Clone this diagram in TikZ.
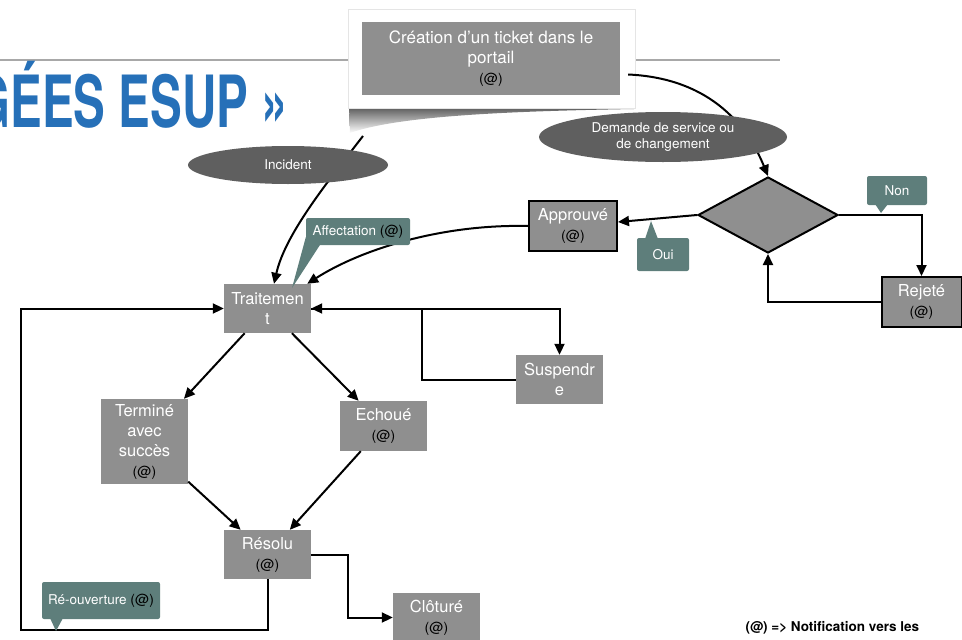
\documentclass[tikz,border=0pt]{standalone}
\usepackage{fontspec}
\setmainfont{TeX Gyre Heros}
\usetikzlibrary{arrows.meta}
\usetikzlibrary{shapes.geometric}
\definecolor{boxgray}{HTML}{8F8F8F}
\definecolor{ovalgray}{HTML}{5F5F5F}
\definecolor{tagteal}{HTML}{5E7E7B}
\definecolor{titleblue}{HTML}{2670B8}
\definecolor{rulegray}{HTML}{A8A8A8}
\tikzset{box/.style = {fill=boxgray, text=white, align=center, inner sep=0, minimum width=87, minimum height=49, font=\fontsize{16.5}{20}\selectfont}}
\tikzset{frame/.style = {box, draw, line width=2}}
\tikzset{oval/.style = {ellipse, fill=ovalgray, text=white, align=center, inner sep=0, font=\fontsize{13.5}{16}\selectfont}}
\tikzset{tag/.style = {fill=tagteal, text=white, rounded corners=2, inner sep=0, font=\fontsize{13.5}{16}\selectfont}}
\tikzset{flow/.style = {line width=2, -{Triangle[length=11pt,width=10pt]}}}
\tikzset{title/.style = {text=titleblue, inner sep=0, font=\fontsize{72}{72}\selectfont\bfseries}}
\newcommand{\arob}{{\color{black}\fontsize{14}{16}\selectfont (@)}}

\begin{document}
\begin{tikzpicture}[x=1pt, y=-1pt]
            \useasboundingbox (0,0) rectangle (962,640);
            \clip (0,0) rectangle (962,640);
            \draw [rulegray, line width=2] (0,60)--(780,60);
            \node [title, anchor=base east] (ttl) at (288,127) {\scalebox{0.66}[1]{GÉES ESUP »}};
            \shade [top color=black!65, bottom color=white] (349,107)--(634,107)--(634,109) .. controls (520,111) and (400,115) .. (350,133)--cycle;
            \node [fill=white, draw=black!10, minimum width=287, minimum height=99] (pan) at (491.5,58.5) {};
            \node [box, minimum width=258, minimum height=73, font=\fontsize{17}{20}\selectfont] (ticket) at (491,58.5) {Création d’un ticket dans le\\portail\\\arob};
            \node [box] (trait) at (267.5,308.5) {Traitemen\\t};
            \node [box, minimum height=85] (term) at (144.5,441.5) {Terminé\\avec\\succès\\\arob};
            \node [box, minimum height=50] (echo) at (383.5,426) {Echoué\\\arob};
            \node [box] (reso) at (267.5,554.5) {Résolu\\\arob};
            \node [box] (clot) at (436.5,617.5) {Clôturé\\\arob};
            \node [box] (susp) at (559.5,379.5) {Suspendr\\e};
            \node [frame, minimum width=88, minimum height=50] (appr) at (573,226) {Approuvé\\\arob};
            \node [frame, minimum width=80, minimum height=50] (rej) at (921.5,302) {Rejeté\\\arob};
            \node [diamond, draw, fill=boxgray, line width=2, inner sep=0, minimum width=140, minimum height=76] (dec) at (768,215) {};
            \coordinate (inc) at (363,136);
            \draw [flow] (inc) .. controls (325,185) and (285,235) .. ([xshift=6.5pt]trait.north);
            \draw [flow] ([xshift=8pt,yshift=-16pt]ticket.east) .. controls (705,78) and (745,120) .. (dec.north);
            \draw [flow] (appr.west) .. controls (440,224) and (360,250) .. ([xshift=-4pt]trait.north east);
            \draw [flow] (dec.west)--([yshift=4pt]appr.east);
            \draw [flow] (dec.east) -| (rej.north);
            \draw [flow] (rej.west) -| (dec.south);
            \draw [flow] (trait)--(term);
            \draw [flow] (trait)--(echo);
            \draw [flow] (term)--(reso);
            \draw [flow] (echo)--(reso);
            \draw [flow] (trait.east) -| (susp.north);
            \draw [flow] (susp.west) -| (422,308.5)--(trait.east);
            \draw [flow] (reso.south)--++(0,51) -| (21,308.5)--(trait.west);
            \draw [flow] (reso.east) -| (348,617.5)--(clot.west);
            \node [oval, minimum width=200, minimum height=38] (incl) at (288,165) {Incident};
            \node [oval, minimum width=248, minimum height=50] (deml) at (663,137) {Demande de service ou\\de changement};
            \node [tag, minimum width=104, minimum height=27] (aff) at (358,231.5) {Affectation \arob};
            \fill [tagteal] ([yshift=8pt]aff.south west)--(292,288)--([xshift=14pt]aff.south west)--cycle;
            \node [tag, minimum width=118, minimum height=37] (reouv) at (101,600.5) {Ré-ouverture \arob};
            \fill [tagteal] (50,618)--(56,631)--(63,618)--cycle;
            \node [tag, minimum width=60, minimum height=29] (non) at (897,190.5) {Non};
            \fill [tagteal] (875,204)--(881,213)--(888,204)--cycle;
            \node [tag, minimum width=52, minimum height=33] (oui) at (663,254.5) {Oui};
            \fill [tagteal] (645,239)--(651,221)--(658,239)--cycle;
            \node [anchor=west, font=\fontsize{13.5}{16}\selectfont\bfseries] (leg) at (742,628) {(@) => Notification vers les};
        \end{tikzpicture}
\end{document}
